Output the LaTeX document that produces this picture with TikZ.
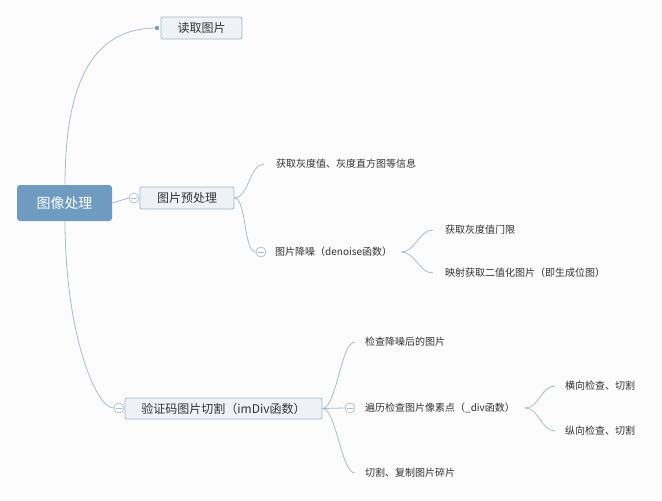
\documentclass[tikz,border=0pt]{standalone}
\usepackage{fontspec}
\setmainfont{Noto Sans CJK SC}
\definecolor{bgc}{HTML}{FCFCFD}
\definecolor{linec}{HTML}{A9BCCE}
\definecolor{rootc}{HTML}{6F9BC0}
\definecolor{boxfill}{HTML}{EEF2F7}
\definecolor{boxline}{HTML}{9FB6CC}
\definecolor{txt}{HTML}{333333}
\definecolor{dotc}{HTML}{7F9DB8}
\tikzset{
  rootbox/.style={fill=rootc, rounded corners=3pt, minimum width=95pt, minimum height=36pt, text=white, font=\fontsize{14}{16}\selectfont, inner sep=0},
  topicbox/.style={fill=boxfill, draw=boxline, line width=0.8pt, rounded corners=2pt, minimum height=22pt, text=txt, font=\fontsize{12}{14}\selectfont, inner sep=0},
  leaf/.style={anchor=west, inner sep=0, text=txt, font=\fontsize{10}{12}\selectfont},
  collapse/.style={circle, draw=linec, fill=white, line width=0.7pt, minimum size=10pt, inner sep=0,
    path picture={\draw[linec, line width=0.7pt] ([xshift=-3pt]path picture bounding box.center) -- ([xshift=3pt]path picture bounding box.center);}},
  conn/.style={draw=linec, line width=0.8pt},
  curve/.style={to path={.. controls ([xshift=#1]\tikztostart) and ([xshift=-#1]\tikztotarget) .. (\tikztotarget)}},
  curve/.default=13pt
}
\begin{document}
\begin{tikzpicture}[x=1pt,y=-1pt]
\fill[bgc] (0,0) rectangle (662,501);
\useasboundingbox (0,0) rectangle (662,501);

% main nodes
\node[rootbox] (root) at (64.5,203) {图像处理};
\node[topicbox, minimum width=81pt] (read) at (201.5,28) {读取图片};
\node[topicbox, minimum width=94pt] (pre) at (187,198) {图片预处理};
\node[topicbox, minimum width=197pt, minimum height=21pt] (cut) at (223.5,408.5) {验证码图片切割（imDiv函数）};

\node[collapse] (c1) at (134,198) {};
\node[collapse] (c3) at (119,408) {};
\node[collapse] (c2) at (261,252) {};
\node[collapse] (c4) at (350,408) {};

\coordinate (rdot) at (157,28);
\coordinate (rtop) at (65,185);
\coordinate (rbot) at (65,221);

% leaves
\node[leaf] (gray) at (276,164) {获取灰度值、灰度直方图等信息};
\node[leaf] (den) at (275,252) {图片降噪（denoise函数）};
\node[leaf] (thr) at (445,230) {获取灰度值门限};
\node[leaf] (map) at (445,273) {映射获取二值化图片（即生成位图）};
\node[leaf] (chk) at (365,342) {检查降噪后的图片};
\node[leaf] (trv) at (365,408) {遍历检查图片像素点（\_div函数）};
\node[leaf] (cpy) at (365,473) {切割、复制图片碎片};
\node[leaf] (hor) at (565,386) {横向检查、切割};
\node[leaf] (ver) at (565,431) {纵向检查、切割};

% connectors from root
\draw[conn] (rtop) .. controls (65,70) and (100,28) .. (rdot);
\fill[dotc] (rdot) circle (2.2pt);
\draw[conn] (rbot) .. controls (65,330) and (95,408) .. (c3.west);
\draw[conn] (root.east) -- (c1.west);

% from pre
\draw[conn] (pre.east) to[curve=14pt] ([xshift=-12pt]gray.west);
\draw[conn] (pre.east) to[curve=12pt] (c2.west);

% from denoise
\coordinate (denb) at ([xshift=9pt]den.east);
\draw[conn] (denb) to[curve=14pt] ([xshift=-12pt]thr.west);
\draw[conn] (denb) to[curve=14pt] ([xshift=-12pt]map.west);

% from cut
\draw[conn] (cut.east) to[curve=14pt] ([xshift=-10pt]chk.west);
\draw[conn] (cut.east) -- (c4.west);
\draw[conn] (cut.east) to[curve=14pt] ([xshift=-10pt]cpy.west);

% from traverse
\coordinate (trvb) at ([xshift=10pt]trv.east);
\draw[conn] (trvb) to[curve=14pt] ([xshift=-10pt]hor.west);
\draw[conn] (trvb) to[curve=14pt] ([xshift=-10pt]ver.west);
\end{tikzpicture}
\end{document}
